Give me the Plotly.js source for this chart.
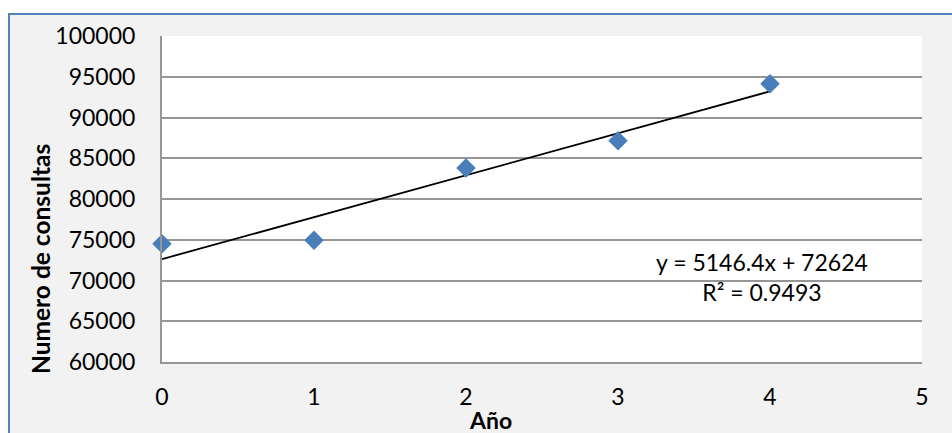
<!DOCTYPE html>
<html>
<head>
<meta charset="utf-8">
<script src="https://cdn.plot.ly/plotly-3.0.1.min.js"></script>
<style>html,body{margin:0;padding:0;background:#fff;}#chart{width:952px;height:433px;}</style>
</head>
<body>
<div id="chart"></div>
<script>
// ---- data ----
const years = [0, 1, 2, 3, 4];
const consultas = [74518, 74950, 83816, 87150, 94150];
const xTickVals = [0, 1, 2, 3, 4, 5];
const yTickVals = [60000, 65000, 70000, 75000, 80000, 85000, 90000, 95000, 100000];
const xTitle = 'Año';
const yTitle = 'Numero de consultas';
const eqText = 'y = 5146.4x + 72624';
const r2Text = 'R² = 0.9493';

// least-squares trendline from the data
const n = years.length;
const mx = years.reduce((a, b) => a + b, 0) / n;
const my = consultas.reduce((a, b) => a + b, 0) / n;
let sxy = 0, sxx = 0;
for (let i = 0; i < n; i++) { sxy += (years[i] - mx) * (consultas[i] - my); sxx += (years[i] - mx) ** 2; }
const slope = sxy / sxx, intercept = my - slope * mx;
const trendX = [Math.min(...years), Math.max(...years)];
const trendY = trendX.map(x => intercept + slope * x);

const FONT = 'Lato, "Open Sans", sans-serif';
const L = 162, R = 30, T = 36, B = 71, W = 952, H = 433;
const pw = W - L - R, ph = H - T - B;
const px = x => (x - L) / pw;
const py = y => (H - B - y) / ph;

const traces = [
  {
    x: trendX, y: trendY, mode: 'lines', type: 'scatter',
    line: {color: '#000000', width: 1.8}, hoverinfo: 'skip', showlegend: false
  },
  {
    x: years, y: consultas, mode: 'markers', type: 'scatter',
    marker: {symbol: 'diamond', size: 15, color: '#4a7ebb', line: {width: 0}},
    showlegend: false, cliponaxis: false
  }
];

const layout = {
  width: W, height: H,
  margin: {l: L, r: R, t: T, b: B, pad: 0},
  paper_bgcolor: '#f2f2f2',
  plot_bgcolor: '#ffffff',
  font: {family: FONT, size: 23, color: '#000000'},
  showlegend: false,
  xaxis: {
    range: [0, 5], tickvals: xTickVals, showgrid: false, zeroline: false,
    showline: true, linecolor: '#969696', linewidth: 2,
    ticks: '', ticklabelstandoff: 13, tickfont: {family: FONT, size: 23, color: '#000'}
  },
  yaxis: {
    range: [60000, 100000], tickvals: yTickVals, tickformat: 'd',
    showgrid: true, gridcolor: '#969696', gridwidth: 2, zeroline: false,
    showline: true, linecolor: '#969696', linewidth: 2,
    ticks: '', ticklabelstandoff: 20, tickfont: {family: FONT, size: 23, color: '#000'}
  },
  shapes: [
    {type: 'rect', xref: 'paper', yref: 'paper', x0: px(-5), x1: px(9), y0: py(H + 10), y1: py(-5),
     fillcolor: '#ffffff', line: {width: 0}, layer: 'below'},
    {type: 'rect', xref: 'paper', yref: 'paper', x0: px(-5), x1: px(W + 10), y0: py(14), y1: py(-5),
     fillcolor: '#ffffff', line: {width: 0}, layer: 'below'},
    {type: 'rect', xref: 'paper', yref: 'paper', x0: px(9), x1: px(W + 20), y0: py(H + 20), y1: py(14),
     fillcolor: 'rgba(0,0,0,0)', line: {color: '#4f81bd', width: 2}, layer: 'above'}
  ],
  annotations: [
    {xref: 'paper', yref: 'paper', x: px(762), y: py(277), text: eqText + '<br>' + r2Text,
     showarrow: false, align: 'center', xanchor: 'center', yanchor: 'middle',
     font: {family: FONT, size: 23, color: '#000'}},
    {xref: 'paper', yref: 'paper', x: px(490), y: py(420), text: '<b>' + xTitle + '</b>',
     showarrow: false, xanchor: 'center', yanchor: 'middle',
     font: {family: FONT, size: 23, color: '#000'}},
    {xref: 'paper', yref: 'paper', x: px(40), y: py(259), text: '<b>' + yTitle + '</b>',
     showarrow: false, textangle: -90, xanchor: 'center', yanchor: 'middle',
     font: {family: FONT, size: 24.5, color: '#000'}}
  ]
};

Plotly.newPlot('chart', traces, layout, {displayModeBar: false, staticPlot: true});
</script>
</body>
</html>
